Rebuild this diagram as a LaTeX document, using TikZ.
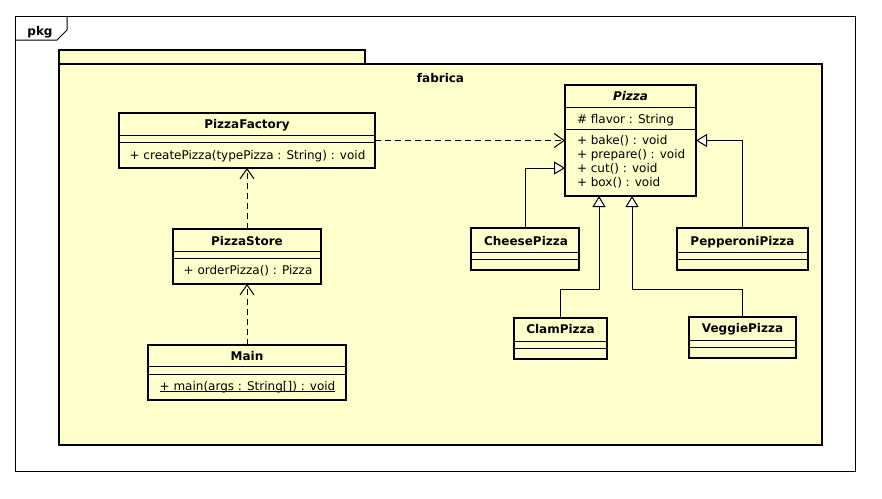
\documentclass[tikz,border=0pt]{standalone}
\usepackage{fontspec}
\setmainfont{DejaVu Sans}
\usetikzlibrary{arrows.meta}
\definecolor{umlyellow}{HTML}{FFFFCC}
\begin{document}
\begin{tikzpicture}[x=1pt,y=-1pt,
  every node/.style={inner sep=0pt, outer sep=0pt},
  txt/.style={anchor=base, font=\fontsize{12}{14}\selectfont},
  ltxt/.style={anchor=base west, font=\fontsize{12}{14}\selectfont},
  cls/.style={draw, line width=2pt, fill=umlyellow, rectangle},
  sep/.style={line width=1pt},
  dep/.style={line width=1pt, dash pattern=on 6pt off 4pt, -{Straight Barb[length=10pt,width=14pt]}},
  inh/.style={line width=1pt, -{Triangle[length=11pt,width=13pt,fill=white]}},
]
\useasboundingbox (0,0) rectangle (882,498);
\fill[white] (0,0) rectangle (882,498);
% outer frame
\draw[line width=1pt] (15,16) rectangle (855,471);
\draw[line width=1pt] (15,40) -- (57,40) -- (67,30) -- (67,16);
\node[txt] (pkg) at (40,35) {\bfseries pkg};
% package fabrica
\draw[line width=2pt, fill=umlyellow] (59,50) rectangle (365,64);
\draw[line width=2pt, fill=umlyellow] (59,64) rectangle (822,445);
\node[txt] (fabrica) at (440.5,82) {\bfseries fabrica};

% classes
\node[cls, minimum width=256pt, minimum height=55pt] (pf) at (247,140.5) {};
\node[cls, minimum width=131pt, minimum height=111pt] (pizza) at (630.5,140.5) {};
\node[cls, minimum width=108pt, minimum height=42pt] (cheese) at (525,249) {};
\node[cls, minimum width=131pt, minimum height=42pt] (pep) at (742.5,249) {};
\node[cls, minimum width=93pt, minimum height=41pt] (clam) at (560.5,338.5) {};
\node[cls, minimum width=107pt, minimum height=41pt] (veggie) at (742.5,337.5) {};
\node[cls, minimum width=148pt, minimum height=55pt] (ps) at (247,256.5) {};
\node[cls, minimum width=198pt, minimum height=55pt] (main) at (247,372.5) {};

% separators
\coordinate (s1) at (0,135); \coordinate (s2) at (0,142);
\draw[sep] (pf.west |- s1) -- (pf.east |- s1);
\draw[sep] (pf.west |- s2) -- (pf.east |- s2);
\coordinate (s3) at (0,107); \coordinate (s4) at (0,129);
\draw[sep] (pizza.west |- s3) -- (pizza.east |- s3);
\draw[sep] (pizza.west |- s4) -- (pizza.east |- s4);
\coordinate (s5) at (0,252); \coordinate (s6) at (0,259);
\draw[sep] (cheese.west |- s5) -- (cheese.east |- s5);
\draw[sep] (cheese.west |- s6) -- (cheese.east |- s6);
\draw[sep] (pep.west |- s5) -- (pep.east |- s5);
\draw[sep] (pep.west |- s6) -- (pep.east |- s6);
\coordinate (s7) at (0,341); \coordinate (s8) at (0,348);
\draw[sep] (clam.west |- s7) -- (clam.east |- s7);
\draw[sep] (clam.west |- s8) -- (clam.east |- s8);
\coordinate (s9) at (0,340); \coordinate (s10) at (0,347);
\draw[sep] (veggie.west |- s9) -- (veggie.east |- s9);
\draw[sep] (veggie.west |- s10) -- (veggie.east |- s10);
\coordinate (s11) at (0,251); \coordinate (s12) at (0,258);
\draw[sep] (ps.west |- s11) -- (ps.east |- s11);
\draw[sep] (ps.west |- s12) -- (ps.east |- s12);
\coordinate (s13) at (0,366); \coordinate (s14) at (0,374);
\draw[sep] (main.west |- s13) -- (main.east |- s13);
\draw[sep] (main.west |- s14) -- (main.east |- s14);

% texts
\node[txt] (pfname) at (247,128.5) {\bfseries PizzaFactory};
\node[txt] (pfm) at (247.5,159.5) {+ createPizza(typePizza : String) : void};
\node[txt] (pizzaname) at (630.5,100.5) {\bfseries\itshape Pizza};
\node[ltxt] (pizzaa) at (577,123.3) {\# flavor : String};
\node[ltxt] (pizzam1) at (577,144.3) {+ bake() : void};
\node[ltxt] (pizzam2) at (577,158.3) {+ prepare() : void};
\node[ltxt] (pizzam3) at (577,172.3) {+ cut() : void};
\node[ltxt] (pizzam4) at (577,186.5) {+ box() : void};
\node[txt] (cheesename) at (526,245) {\bfseries CheesePizza};
\node[txt] (pepname) at (742.5,245) {\bfseries PepperoniPizza};
\node[txt] (clamname) at (560.5,333.3) {\bfseries ClamPizza};
\node[txt] (veggiename) at (742.5,332.3) {\bfseries VeggiePizza};
\node[txt] (psname) at (247,245) {\bfseries PizzaStore};
\node[txt] (psm) at (248,274.3) {+ orderPizza() : Pizza};
\node[txt] (mainname) at (247,360.7) {\bfseries Main};
\node[txt] (mainm) at (247.5,390) {\underline{\smash{+ main(args : String[]) : void}}};

% connectors
\draw[dep] (pf.east) -- (pizza.west);
\draw[dep] (ps.north) -- (pf.south);
\draw[dep] (main.north) -- (ps.south);
\coordinate (cj) at (0,168);
\draw[inh] (cheese.north) |- (pizza.west |- cj);
\draw[inh] (pep.north) |- (pizza.east);
\coordinate (ca) at (599,289);
\coordinate (va) at (632,289);
\draw[inh] (clam.north) |- (ca) -- (pizza.south -| ca);
\draw[inh] (veggie.north) |- (va) -- (pizza.south -| va);
\end{tikzpicture}
\end{document}
